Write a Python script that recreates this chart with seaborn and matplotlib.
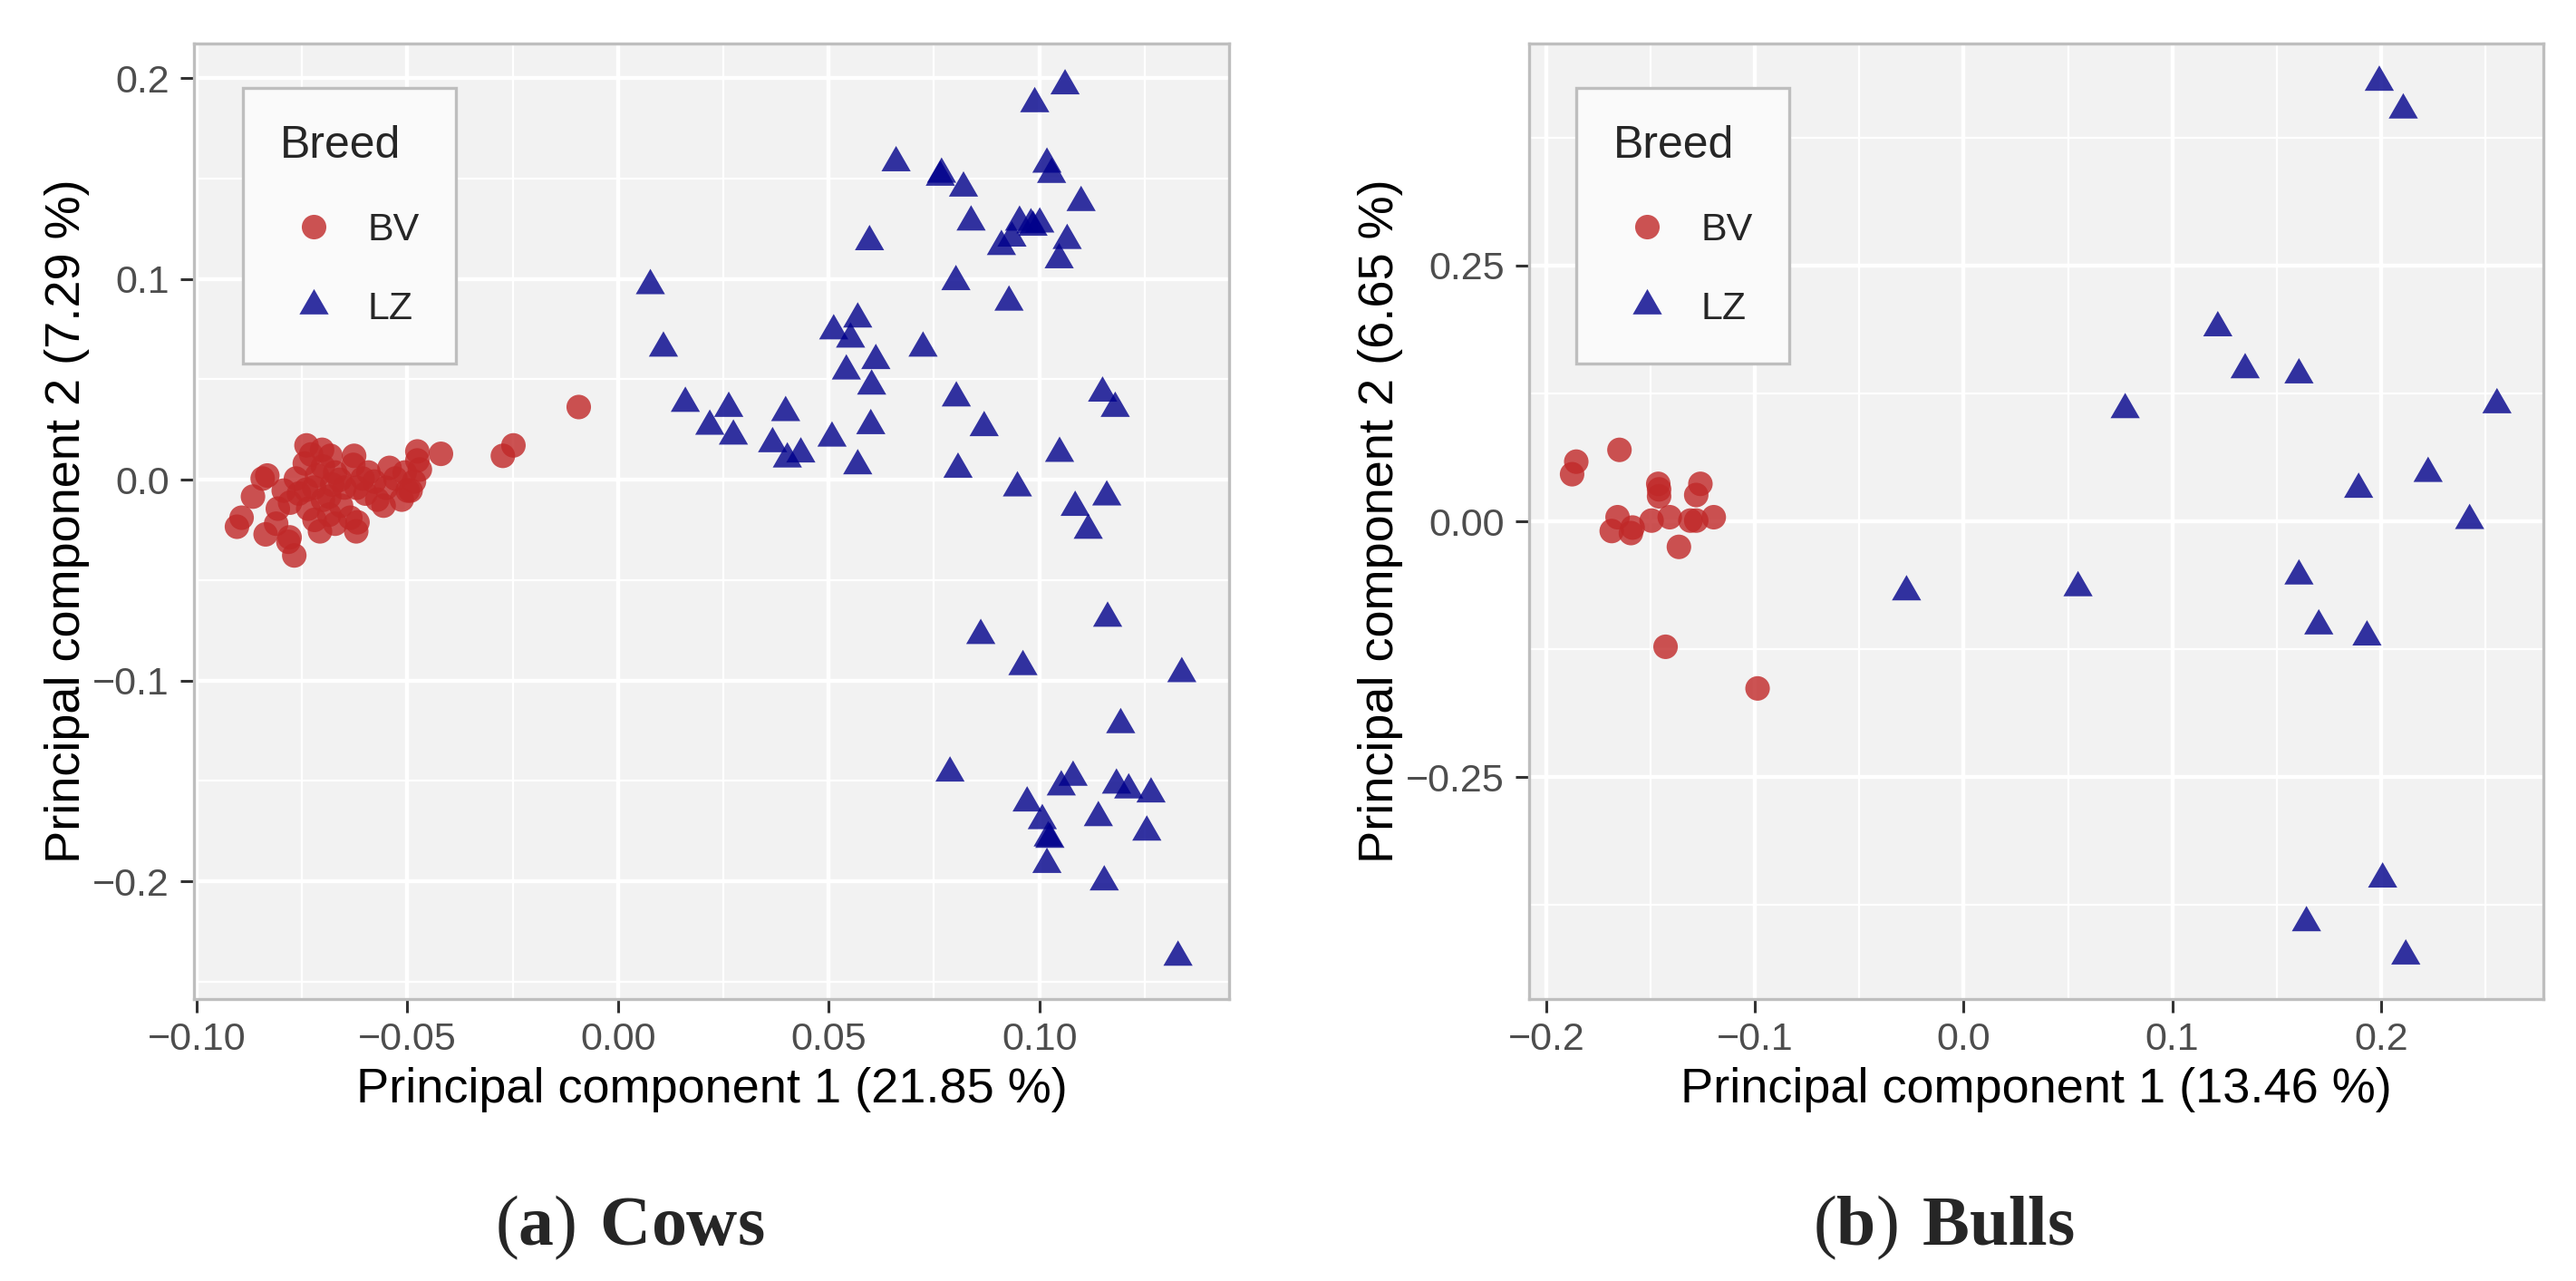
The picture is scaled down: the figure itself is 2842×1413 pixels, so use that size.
import numpy as np
import pandas as pd
import matplotlib
matplotlib.use("Agg")
import matplotlib.pyplot as plt
from matplotlib.path import Path
from matplotlib.ticker import MultipleLocator, FuncFormatter
import seaborn as sns


# ---- cows (panel a) ----
cow_bv_pc1 = [-0.0739, -0.0702, -0.0682, -0.0626, -0.0476, -0.0420, -0.0476, -0.0248, -0.0273, -0.0832,
              -0.0843, -0.0866, -0.0893, -0.0904, -0.0836, -0.0782, -0.0768, -0.0779, -0.0707, -0.0621,
              -0.0618, -0.0556, -0.0513, -0.0492, -0.0484, -0.0542, -0.0592, -0.0628, -0.0671, -0.0743,
              -0.0764, -0.0793, -0.0807, -0.0757, -0.0721, -0.0685, -0.0649, -0.0735, -0.0685, -0.0657,
              -0.0599, -0.0578, -0.0528, -0.0506, -0.0470, -0.0499, -0.0571, -0.0714, -0.0700, -0.0678,
              -0.0778, -0.0728, -0.0635, -0.0671, -0.0811, -0.0606, -0.0093, -0.0700, -0.0740, -0.0660,
              -0.0620, -0.0550, -0.0720]
cow_bv_pc2 = [0.0171, 0.0149, 0.0119, 0.0119, 0.0141, 0.0129, 0.0096, 0.0171, 0.0119, 0.0021,
              0.0006, -0.0084, -0.0189, -0.0234, -0.0272, -0.0309, -0.0377, -0.0287, -0.0257, -0.0257,
              -0.0212, -0.0129, -0.0099, -0.0054, -0.0009, 0.0059, 0.0036, 0.0074, 0.0036, 0.0081,
              0.0006, -0.0054, -0.0144, -0.0069, -0.0039, -0.0084, -0.0039, -0.0144, -0.0174, -0.0129,
              -0.0069, -0.0009, 0.0006, 0.0036, 0.0051, -0.0054, -0.0099, 0.0021, 0.0066, -0.0024,
              -0.0114, 0.0126, -0.0189, -0.0219, -0.0219, 0.0006, 0.0362, -0.0100, -0.0050, 0.0000,
              -0.0040, -0.0040, -0.0200]

cow_lz_pc1 = [0.1061, 0.0989, 0.0660, 0.0768, 0.0765, 0.0820, 0.1018, 0.1029, 0.1099, 0.0838,
              0.0953, 0.0980, 0.1001, 0.0985, 0.0935, 0.0910, 0.1066, 0.1047, 0.0802, 0.0928,
              0.0597,
              0.0077, 0.0108, 0.0512, 0.0569, 0.0552, 0.0724, 0.0612, 0.0542, 0.0602, 0.0160,
              0.0263, 0.0398, 0.0803, 0.1150, 0.1180, 0.0218, 0.0274, 0.0600, 0.0869, 0.0508,
              0.0367, 0.0402, 0.0434, 0.0569, 0.0807, 0.1048, 0.0948, 0.1160, 0.1085, 0.1116,
              0.1162, 0.0861, 0.0961, 0.1338,
              0.1193, 0.0788, 0.1080, 0.1052, 0.1183, 0.1212, 0.1265, 0.0971, 0.1007, 0.1140,
              0.1021, 0.1025, 0.1255, 0.1018, 0.1154, 0.1329]
cow_lz_pc2 = [0.1961, 0.1872, 0.1578, 0.1521, 0.1506, 0.1452, 0.1571, 0.1520, 0.1380, 0.1283,
              0.1282, 0.1269, 0.1273, 0.1257, 0.1203, 0.1161, 0.1191, 0.1095, 0.0986, 0.0884,
              0.1185,
              0.0966, 0.0655, 0.0741, 0.0800, 0.0700, 0.0655, 0.0593, 0.0541, 0.0466, 0.0380,
              0.0355, 0.0334, 0.0407, 0.0431, 0.0355, 0.0266, 0.0217, 0.0269, 0.0259, 0.0207,
              0.0179, 0.0103, 0.0128, 0.0069, 0.0052, 0.0131, -0.0041, -0.0086, -0.0138, -0.0252,
              -0.0690, -0.0776, -0.0931, -0.0966,
              -0.1220, -0.1461, -0.1482, -0.1530, -0.1521, -0.1545, -0.1565, -0.1610, -0.1698, -0.1683,
              -0.1784, -0.1791, -0.1755, -0.1916, -0.2003, -0.2378]

# ---- bulls (panel b) ----
bull_bv_pc1 = [-0.1877, -0.1857, -0.1650, -0.1464, -0.1460, -0.1460, -0.1262, -0.1282, -0.1659, -0.1687,
               -0.1587, -0.1595, -0.1496, -0.1409, -0.1310, -0.1282, -0.1198, -0.1365, -0.1429, -0.0988]
bull_bv_pc2 = [0.0460, 0.0583, 0.0698, 0.0366, 0.0312, 0.0244, 0.0366, 0.0257, 0.0040, -0.0095,
               -0.0061, -0.0115, 0.0007, 0.0040, 0.0007, 0.0007, 0.0040, -0.0250, -0.1226, -0.1633]

bull_lz_pc1 = [0.1992, 0.2107, 0.1218, 0.1349, 0.1607, 0.0774, 0.2556, 0.2226, 0.1893, 0.2425,
               0.1607, 0.0548, -0.0274, 0.1702, 0.1933, 0.2008, 0.1643, 0.2119]
bull_lz_pc2 = [0.4289, 0.4018, 0.1890, 0.1480, 0.1430, 0.1090, 0.1138, 0.0467, 0.0312, 0.0007,
               -0.0535, -0.0650, -0.0690, -0.1023, -0.1131, -0.3496, -0.3923, -0.4248]

breeds = ["BV", "LZ"]
cow_axis_labels = ["Principal component 1 (21.85 %)", "Principal component 2 (7.29 %)"]
bull_axis_labels = ["Principal component 1 (13.46 %)", "Principal component 2 (6.65 %)"]
captions = [r"$\mathrm{(}\mathbf{a}\mathrm{)}\ \mathbf{Cows}$",
            r"$\mathrm{(}\mathbf{b}\mathrm{)}\ \mathbf{Bulls}$"]

BREED_COLORS = {"BV": "#C02828", "LZ": "#00008B"}
BREED_SIZES = {"BV": 95, "LZ": 180}
TRIANGLE = Path([(0, 1), (0.866, -0.5), (-0.866, -0.5), (0, 1)],
                [Path.MOVETO, Path.LINETO, Path.LINETO, Path.CLOSEPOLY])
BREED_MARKERS = {"BV": "o", "LZ": TRIANGLE}


def make_frame(bv_x, bv_y, lz_x, lz_y):
    bv = pd.DataFrame({"pc1": bv_x, "pc2": bv_y, "Breed": "BV"})
    lz = pd.DataFrame({"pc1": lz_x, "pc2": lz_y, "Breed": "LZ"})
    return pd.concat([bv, lz], ignore_index=True)


def fmt(decimals):
    return FuncFormatter(lambda v, _: f"{v:.{decimals}f}".replace("-", "\u2212"))


def draw_panel(ax, df, labels, xlim, ylim, xstep, ystep, xdec, ydec, legend_x):
    sns.scatterplot(data=df, x="pc1", y="pc2", hue="Breed", style="Breed", size="Breed",
                    hue_order=breeds, style_order=breeds, size_order=breeds,
                    palette=BREED_COLORS, markers=BREED_MARKERS, sizes=BREED_SIZES,
                    alpha=0.8, linewidth=0, ax=ax)

    ax.set_xlim(*xlim)
    ax.set_ylim(*ylim)
    ax.xaxis.set_major_locator(MultipleLocator(xstep))
    ax.xaxis.set_minor_locator(MultipleLocator(xstep / 2))
    ax.yaxis.set_major_locator(MultipleLocator(ystep))
    ax.yaxis.set_minor_locator(MultipleLocator(ystep / 2))
    ax.xaxis.set_major_formatter(fmt(xdec))
    ax.yaxis.set_major_formatter(fmt(ydec))

    ax.set_facecolor("#F2F2F2")
    ax.set_axisbelow(True)
    ax.grid(True, which="major", color="white", linewidth=1.6)
    ax.grid(True, which="minor", color="white", linewidth=0.8)
    for sp in ax.spines.values():
        sp.set_visible(True)
        sp.set_color("#BEBEBE")
        sp.set_linewidth(1.2)

    ax.tick_params(which="major", bottom=True, left=True, length=5.4, width=1.1,
                   color="#333333", labelsize=15.5, labelcolor="#4D4D4D")
    ax.tick_params(axis="x", which="major", pad=3.6)
    ax.tick_params(axis="y", which="major", pad=4.5)
    ax.tick_params(which="minor", length=0)

    ax.set_xlabel(labels[0], fontsize=19.5, color="black", labelpad=3.5)
    ax.set_ylabel(labels[1], fontsize=19.5, color="black", labelpad=1)

    sns.move_legend(ax, "upper left", bbox_to_anchor=(legend_x, 0.9535), borderaxespad=0,
                    title="Breed", fontsize=15.5, title_fontsize=18, alignment="left",
                    frameon=True, fancybox=False, framealpha=1, borderpad=0.94,
                    handlelength=1.75, handletextpad=0.5, labelspacing=1.09)
    leg = ax.get_legend()
    # gap between the title and the first key, in points
    leg._legend_box.sep = 18.2
    frame = leg.get_frame()
    frame.set_facecolor("#FAFAFA")
    frame.set_edgecolor("#BEBEBE")
    frame.set_linewidth(1.2)


sns.set_theme(style="darkgrid")
plt.rcParams["font.family"] = ["Liberation Sans", "DejaVu Sans"]
plt.rcParams["mathtext.fontset"] = "custom"
plt.rcParams["mathtext.rm"] = "Liberation Serif"
plt.rcParams["mathtext.bf"] = "Liberation Serif:bold"

fig = plt.figure(figsize=(14.21, 7.065), dpi=200)
fig.patch.set_facecolor("white")

ax_cow = fig.add_axes([0.0753, 0.2201, 0.4018, 0.7459])
ax_bull = fig.add_axes([0.5936, 0.2201, 0.3937, 0.7459])

cows = make_frame(cow_bv_pc1, cow_bv_pc2, cow_lz_pc1, cow_lz_pc2)
bulls = make_frame(bull_bv_pc1, bull_bv_pc2, bull_lz_pc1, bull_lz_pc2)

draw_panel(ax_cow, cows, cow_axis_labels, (-0.1006, 0.145), (-0.2586, 0.2172), 0.05, 0.1, 2, 1, 0.0473)
draw_panel(ax_bull, bulls, bull_axis_labels, (-0.2083, 0.2778), (-0.4668, 0.4668), 0.1, 0.25, 1, 2, 0.0466)

fig.text(0.2445, 0.0283, captions[0], ha="center", va="baseline", fontsize=28)
fig.text(0.7547, 0.0283, captions[1], ha="center", va="baseline", fontsize=28)

fig.savefig("out.png", dpi=200, facecolor="white")
